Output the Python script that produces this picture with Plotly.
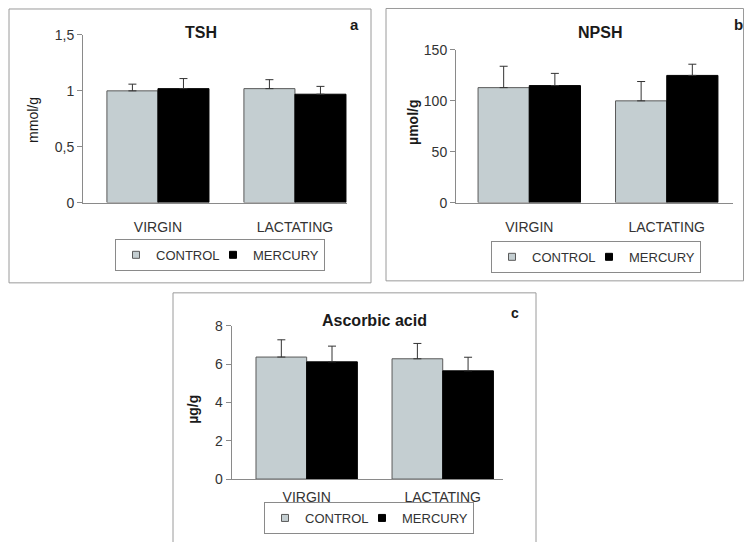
import plotly.graph_objects as go

W, H = 744, 542

groups = ["VIRGIN", "LACTATING"]
series_names = ["CONTROL", "MERCURY"]

tsh_control = [1.00, 1.02]
tsh_control_err = [0.06, 0.08]
tsh_mercury = [1.02, 0.97]
tsh_mercury_err = [0.09, 0.07]

npsh_control = [113, 100]
npsh_control_err = [21, 19]
npsh_mercury = [115, 125]
npsh_mercury_err = [12, 11]

aa_control = [6.37, 6.28]
aa_control_err = [0.90, 0.80]
aa_mercury = [6.12, 5.65]
aa_mercury_err = [0.82, 0.71]

FONT = "Arial, 'Liberation Sans', sans-serif"
CTRL_FILL = "#c4ced1"
CTRL_LINE = "#5a5a5a"
MERC_FILL = "#000000"
AXIS_COL = "#8a8a8a"
TEXT_COL = "#333333"
FRAME_COL = "#9a9a9a"


def px(x):
    return x / W


def py(y):
    # vertical page position (px from top of photographed picture) -> paper fraction;
    # compensates the vertical offset/scale observed in the photographed page
    ys = (y - 8.0) / 0.971
    return 1 - ys / H


fig = go.Figure()

panels = [
    dict(ax="", c=tsh_control, ce=tsh_control_err, m=tsh_mercury, me=tsh_mercury_err, legend="legend"),
    dict(ax="2", c=npsh_control, ce=npsh_control_err, m=npsh_mercury, me=npsh_mercury_err, legend="legend2"),
    dict(ax="3", c=aa_control, ce=aa_control_err, m=aa_mercury, me=aa_mercury_err, legend="legend3"),
]

for p in panels:
    xa, ya = "x" + p["ax"], "y" + p["ax"]
    fig.add_trace(go.Bar(
        x=groups, y=p["c"], name=series_names[0], xaxis=xa, yaxis=ya,
        marker=dict(color=CTRL_FILL, line=dict(color=CTRL_LINE, width=1)),
        error_y=dict(type="data", symmetric=False, array=p["ce"], arrayminus=[0, 0],
                     color="#333333", thickness=1, width=4),
        showlegend=False,
    ))
    fig.add_trace(go.Bar(
        x=groups, y=p["m"], name=series_names[1], xaxis=xa, yaxis=ya,
        marker=dict(color=MERC_FILL, line=dict(color="#000000", width=1)),
        error_y=dict(type="data", symmetric=False, array=p["me"], arrayminus=[0, 0],
                     color="#333333", thickness=1, width=4),
        showlegend=False,
    ))
    fig.add_trace(go.Scatter(
        x=[None], y=[None], mode="markers", name=series_names[0], xaxis=xa, yaxis=ya,
        marker=dict(symbol="square", size=7, color=CTRL_FILL, line=dict(color=CTRL_LINE, width=1)),
        legend=p["legend"], showlegend=True, hoverinfo="skip", legendwidth=52,
    ))
    fig.add_trace(go.Scatter(
        x=[None], y=[None], mode="markers", name=series_names[1], xaxis=xa, yaxis=ya,
        marker=dict(symbol="square", size=7, color=MERC_FILL, line=dict(color="#000000", width=1)),
        legend=p["legend"], showlegend=True, hoverinfo="skip",
    ))

xcommon = dict(type="category", showline=True, linecolor=AXIS_COL, linewidth=1,
               ticks="outside", ticklen=12, tickcolor="rgba(0,0,0,0)",
               showgrid=False, zeroline=False, tickfont=dict(size=14, color=TEXT_COL, family=FONT),
               fixedrange=True)
ycommon = dict(showline=True, linecolor=AXIS_COL, linewidth=1, ticks="outside", ticklen=5,
               tickcolor=AXIS_COL, showgrid=False, zeroline=False,
               tickfont=dict(size=14, color=TEXT_COL, family=FONT), fixedrange=True)

fig.update_layout(
    xaxis=dict(xcommon, domain=[px(83), px(347)], range=[-0.547, 1.380], anchor="y"),
    yaxis=dict(ycommon, domain=[py(202.7), py(35)], range=[0, 1.5], dtick=0.5, anchor="x"),
    xaxis2=dict(xcommon, domain=[px(456), px(733)], range=[-0.533, 1.482], anchor="y2"),
    yaxis2=dict(ycommon, domain=[py(202.7), py(50)], range=[0, 150], dtick=50, anchor="x2"),
    xaxis3=dict(xcommon, domain=[px(231.7), px(503)], range=[-0.551, 1.443], anchor="y3",
                ticklen=5),
    yaxis3=dict(ycommon, domain=[py(479.3), py(326)], range=[0, 8], dtick=2, anchor="x3"),
)

legcommon = dict(orientation="h", xanchor="center", bgcolor="white",
                 bordercolor="#8a8a8a", borderwidth=1,
                 font=dict(size=13, color=TEXT_COL, family=FONT), itemwidth=30)
fig.update_layout(
    legend=dict(legcommon, x=px(220), y=py(255), yanchor="middle"),
    legend2=dict(legcommon, x=px(596), y=py(257), yanchor="middle"),
    legend3=dict(legcommon, x=px(369), y=0, yanchor="bottom"),
)

frames = [(9, 9, 371, 283), (386, 8.5, 743.5, 281), (173, 293, 536, 560)]
for x0, y0, x1, y1 in frames:
    fig.add_shape(type="rect", xref="paper", yref="paper",
                  x0=px(x0), x1=px(x1), y0=py(y1), y1=py(y0),
                  line=dict(color=FRAME_COL, width=1), fillcolor="rgba(0,0,0,0)", layer="below")

annots = [
    ("TSH", 201, 33, 16, True, 0),
    ("NPSH", 600, 33, 16, True, 0),
    ("Ascorbic acid", 374, 321, 16, True, 0),
    ("a", 354, 25, 15, True, 0),
    ("b", 738, 25, 15, True, 0),
    ("c", 515, 313, 14, True, 0),
    ("mmol/g", 33, 120, 14, False, -90),
    ("µmol/g", 413, 122, 14, True, -90),
    ("µg/g", 193, 410, 14, True, -90),
]
for text, x, y, size, bold, ang in annots:
    fig.add_annotation(text=f"<b>{text}</b>" if bold else text, xref="paper", yref="paper",
                       x=px(x), y=py(y), xanchor="center", yanchor="middle", showarrow=False,
                       textangle=ang, font=dict(size=size, color="#1a1a1a", family=FONT))

fig.update_layout(
    width=W, height=H, margin=dict(l=0, r=0, t=0, b=0),
    paper_bgcolor="white", plot_bgcolor="white",
    barmode="group", bargap=0.255, bargroupgap=0,
    separators=",.",
    font=dict(family=FONT, color=TEXT_COL),
)

post = (
    "var de=document.documentElement, b=document.body;"
    "de.style.margin='0';de.style.padding='0';de.style.overflow='hidden';"
    "b.style.margin='0';b.style.padding='0';b.style.overflow='hidden';"
    "var gd=document.getElementById('{plot_id}');"
    "gd.style.position='absolute';gd.style.left='0px';gd.style.top='0px';"
)
fig.write_html("out.html", config={"displayModeBar": False}, post_script=post)
